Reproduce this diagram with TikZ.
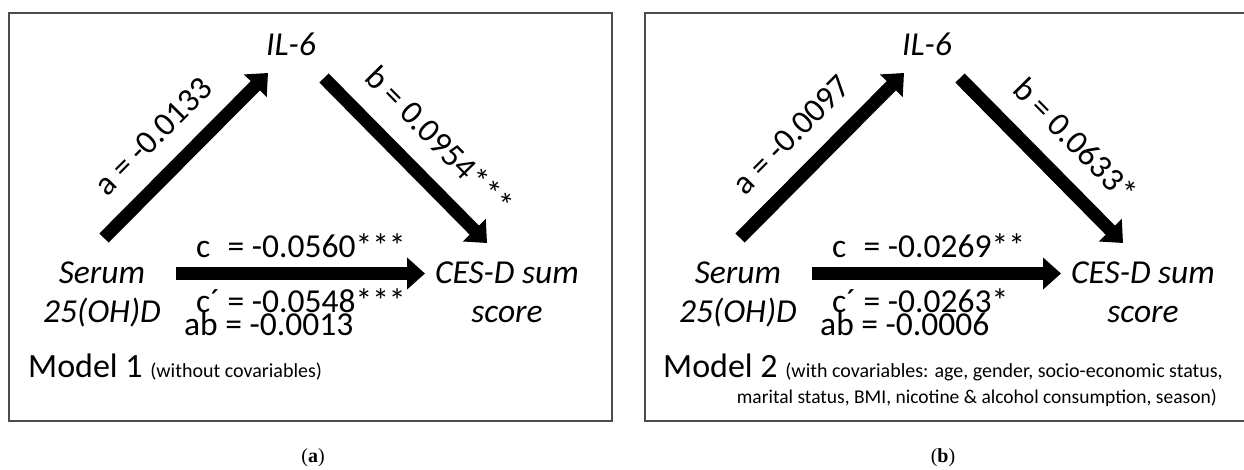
\documentclass[tikz,border=0pt]{standalone}
\usepackage{fontspec}
\setmainfont{Carlito}
\newfontfamily\capfont{Liberation Serif}
\usetikzlibrary{arrows.meta}

\begin{document}
\begin{tikzpicture}[x=1pt,y=-1pt,
    var/.style={font=\fontsize{33.5}{39}\selectfont\itshape, align=center, inner sep=0pt, anchor=base},
    coef/.style={font=\fontsize{33.5}{38}\selectfont, inner sep=0pt},
    bigarrow/.style={line width=13pt, draw=black, -{Triangle[length=18pt,width=31pt]}},
    panel/.style={draw=black!70, line width=1.4pt}]
    \useasboundingbox (0,0) rectangle (1244,469);

    % Model 1
    \draw[panel] (9,13) rectangle (612,421);
    \node[var] (il6a) at (291,55) {IL-6};
    \node[var] (seruma) at (102,322) {Serum\\25(OH)D};
    \node[var] (cesda) at (507,322) {CES-D sum\\score};
    \draw[bigarrow] ([shift={(2,-84)}]seruma.base) -- ([shift={(-23,18)}]il6a.base)
        node[coef, sloped, above=19pt, pos=0.46] {a = -0.0133};
    \draw[bigarrow] ([shift={(33,23)}]il6a.base) -- ([shift={(-20,-79)}]cesda.base)
        node[coef, sloped, above=20pt, pos=0.54] {b = 0.0954***};
    \draw[bigarrow] ([shift={(74,-48.5)}]seruma.base) -- ([shift={(-82,-48.5)}]cesda.base);
    \node[coef, anchor=base west] at (196,257) {c\phantom{´} = -0.0560***};
    \node[coef, anchor=base west] at (196,312) {c´ = -0.0548***};
    \node[coef, anchor=base west] at (184,335) {ab = -0.0013};
    \node[inner sep=0pt, anchor=base west] at (28,377)
        {\fontsize{34}{40}\selectfont Model 1 \fontsize{20}{24}\selectfont(without covariables)};
    \node[font=\capfont\fontsize{20}{24}\selectfont] at (313,458) {({\bfseries a})};

    % Model 2
    \begin{scope}[shift={(636,0)}]
    \draw[panel] (9,13) rectangle (612,421);
    \node[var] (il6b) at (291,55) {IL-6};
    \node[var] (serumb) at (102,322) {Serum\\25(OH)D};
    \node[var] (cesdb) at (507,322) {CES-D sum\\score};
    \draw[bigarrow] ([shift={(2,-84)}]serumb.base) -- ([shift={(-23,18)}]il6b.base)
        node[coef, sloped, above=19pt, pos=0.47] {a = -0.0097};
    \draw[bigarrow] ([shift={(33,23)}]il6b.base) -- ([shift={(-20,-79)}]cesdb.base)
        node[coef, sloped, above=20pt, pos=0.54] {b = 0.0633*};
    \draw[bigarrow] ([shift={(74,-48.5)}]serumb.base) -- ([shift={(-82,-48.5)}]cesdb.base);
    \node[coef, anchor=base west] at (196,257) {c\phantom{´} = -0.0269**};
    \node[coef, anchor=base west] at (196,312) {c´ = -0.0263*};
    \node[coef, anchor=base west] at (184,335) {ab = -0.0006};
    \node[inner sep=0pt, anchor=base west] at (27,377)
        {\fontsize{34}{40}\selectfont Model 2 \fontsize{20}{24}\selectfont(with covariables: age, gender, socio-economic status,};
    \node[inner sep=0pt, anchor=base east, font=\fontsize{19.5}{24}\selectfont] at (581,403)
        {marital status, BMI, nicotine \& alcohol consumption, season)};
    \node[font=\capfont\fontsize{20}{24}\selectfont] at (307,458) {({\bfseries b})};
    \end{scope}
\end{tikzpicture}
\end{document}
